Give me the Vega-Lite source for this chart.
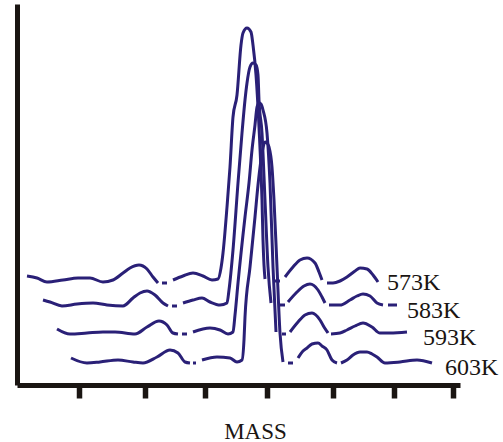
{
  "$schema": "https://vega.github.io/schema/vega-lite/v6.json",
  "autosize": {"type": "none"},
  "width": 443,
  "height": 381,
  "padding": {"left": 17, "top": 4, "right": 43, "bottom": 57},
  "background": "white",
  "config": {"view": {"stroke": null}},
  "datasets": {
    "curves": [
      {"s":"573K-1","m":10,"v":109},{"s":"573K-1","m":20,"v":107},{"s":"573K-1","m":30,"v":103},{"s":"573K-1","m":46,"v":105},{"s":"573K-1","m":61,"v":107},{"s":"573K-1","m":73,"v":107},{"s":"573K-1","m":86,"v":103},{"s":"573K-1","m":96,"v":105},{"s":"573K-1","m":106,"v":112},{"s":"573K-1","m":113,"v":117},{"s":"573K-1","m":122,"v":120},{"s":"573K-1","m":130,"v":116},{"s":"573K-1","m":136,"v":108},{"s":"573K-1","m":141,"v":102},
      {"s":"573K-2","m":145,"v":102},{"s":"573K-2","m":150,"v":102},
      {"s":"573K-3","m":156,"v":105},{"s":"573K-3","m":166,"v":109},{"s":"573K-3","m":176,"v":112},{"s":"573K-3","m":186,"v":109},{"s":"573K-3","m":195,"v":105},{"s":"573K-3","m":201,"v":106},{"s":"573K-3","m":204,"v":117},{"s":"573K-3","m":206,"v":132},{"s":"573K-3","m":210,"v":178},{"s":"573K-3","m":213,"v":218},{"s":"573K-3","m":216,"v":268},{"s":"573K-3","m":220,"v":290},{"s":"573K-3","m":224,"v":340},{"s":"573K-3","m":226,"v":352},{"s":"573K-3","m":230,"v":357},{"s":"573K-3","m":234,"v":353},{"s":"573K-3","m":236,"v":340},{"s":"573K-3","m":239,"v":310},{"s":"573K-3","m":242,"v":258},{"s":"573K-3","m":245,"v":185},{"s":"573K-3","m":246,"v":145},{"s":"573K-3","m":247,"v":120},{"s":"573K-3","m":248,"v":106},
      {"s":"573K-4","m":256,"v":104},{"s":"573K-4","m":263,"v":104},
      {"s":"573K-5","m":268,"v":108},{"s":"573K-5","m":276,"v":118},{"s":"573K-5","m":283,"v":125},{"s":"573K-5","m":290,"v":127},{"s":"573K-5","m":298,"v":122},{"s":"573K-5","m":302,"v":113},{"s":"573K-5","m":305,"v":105},
      {"s":"573K-6","m":310,"v":102},{"s":"573K-6","m":316,"v":102},{"s":"573K-6","m":323,"v":104},{"s":"573K-6","m":330,"v":108},{"s":"573K-6","m":338,"v":114},{"s":"573K-6","m":343,"v":117},{"s":"573K-6","m":350,"v":116},{"s":"573K-6","m":356,"v":110},{"s":"573K-6","m":361,"v":103},

      {"s":"583K-1","m":26,"v":85},{"s":"583K-1","m":33,"v":83},{"s":"583K-1","m":45,"v":79},{"s":"583K-1","m":60,"v":81},{"s":"583K-1","m":76,"v":82},{"s":"583K-1","m":90,"v":80},{"s":"583K-1","m":106,"v":79},{"s":"583K-1","m":116,"v":87},{"s":"583K-1","m":123,"v":92},{"s":"583K-1","m":130,"v":94},{"s":"583K-1","m":138,"v":90},{"s":"583K-1","m":146,"v":82},{"s":"583K-1","m":151,"v":79},
      {"s":"583K-2","m":155,"v":79},{"s":"583K-2","m":160,"v":79},
      {"s":"583K-3","m":166,"v":82},{"s":"583K-3","m":176,"v":85},{"s":"583K-3","m":185,"v":87},{"s":"583K-3","m":193,"v":83},{"s":"583K-3","m":203,"v":80},{"s":"583K-3","m":210,"v":82},{"s":"583K-3","m":212,"v":95},{"s":"583K-3","m":216,"v":135},{"s":"583K-3","m":221,"v":202},{"s":"583K-3","m":225,"v":252},{"s":"583K-3","m":228,"v":285},{"s":"583K-3","m":230,"v":302},{"s":"583K-3","m":233,"v":318},{"s":"583K-3","m":236,"v":322},{"s":"583K-3","m":239,"v":320},{"s":"583K-3","m":241,"v":310},{"s":"583K-3","m":242,"v":285},{"s":"583K-3","m":245,"v":252},{"s":"583K-3","m":248,"v":185},{"s":"583K-3","m":251,"v":118},{"s":"583K-3","m":254,"v":82},
      {"s":"583K-4","m":261,"v":80},{"s":"583K-4","m":268,"v":80},
      {"s":"583K-5","m":271,"v":83},{"s":"583K-5","m":280,"v":93},{"s":"583K-5","m":287,"v":99},{"s":"583K-5","m":293,"v":101},{"s":"583K-5","m":301,"v":95},{"s":"583K-5","m":305,"v":88},{"s":"583K-5","m":308,"v":82},
      {"s":"583K-6","m":312,"v":80},{"s":"583K-6","m":323,"v":80},{"s":"583K-6","m":333,"v":85},{"s":"583K-6","m":340,"v":89},{"s":"583K-6","m":346,"v":91},{"s":"583K-6","m":353,"v":89},{"s":"583K-6","m":360,"v":82},{"s":"583K-6","m":366,"v":80},
      {"s":"583K-7","m":371,"v":80},{"s":"583K-7","m":380,"v":80},

      {"s":"593K-1","m":40,"v":56},{"s":"593K-1","m":53,"v":51},{"s":"593K-1","m":70,"v":52},{"s":"593K-1","m":86,"v":53},{"s":"593K-1","m":98,"v":53},{"s":"593K-1","m":118,"v":51},{"s":"593K-1","m":130,"v":58},{"s":"593K-1","m":142,"v":64},{"s":"593K-1","m":150,"v":60},{"s":"593K-1","m":156,"v":52},{"s":"593K-1","m":161,"v":51},
      {"s":"593K-2","m":165,"v":51},{"s":"593K-2","m":170,"v":51},
      {"s":"593K-3","m":176,"v":53},{"s":"593K-3","m":193,"v":57},{"s":"593K-3","m":203,"v":55},{"s":"593K-3","m":211,"v":51},{"s":"593K-3","m":216,"v":53},{"s":"593K-3","m":218,"v":70},{"s":"593K-3","m":221,"v":102},{"s":"593K-3","m":228,"v":168},{"s":"593K-3","m":232,"v":202},{"s":"593K-3","m":235,"v":235},{"s":"593K-3","m":238,"v":260},{"s":"593K-3","m":240,"v":278},{"s":"593K-3","m":242,"v":282},{"s":"593K-3","m":244,"v":281},{"s":"593K-3","m":246,"v":275},{"s":"593K-3","m":250,"v":252},{"s":"593K-3","m":253,"v":202},{"s":"593K-3","m":256,"v":118},{"s":"593K-3","m":259,"v":53},
      {"s":"593K-4","m":265,"v":51},{"s":"593K-4","m":269,"v":51},
      {"s":"593K-5","m":273,"v":53},{"s":"593K-5","m":281,"v":63},{"s":"593K-5","m":288,"v":70},{"s":"593K-5","m":295,"v":72},{"s":"593K-5","m":303,"v":65},{"s":"593K-5","m":307,"v":58},{"s":"593K-5","m":311,"v":52},
      {"s":"593K-6","m":314,"v":51},{"s":"593K-6","m":323,"v":52},{"s":"593K-6","m":330,"v":55},{"s":"593K-6","m":338,"v":59},{"s":"593K-6","m":346,"v":62},{"s":"593K-6","m":355,"v":58},{"s":"593K-6","m":363,"v":52},{"s":"593K-6","m":373,"v":52},{"s":"593K-6","m":390,"v":53},

      {"s":"603K-1","m":54,"v":27},{"s":"603K-1","m":70,"v":22},{"s":"603K-1","m":83,"v":23},{"s":"603K-1","m":101,"v":25},{"s":"603K-1","m":116,"v":23},{"s":"603K-1","m":126,"v":22},{"s":"603K-1","m":140,"v":28},{"s":"603K-1","m":153,"v":35},{"s":"603K-1","m":161,"v":32},{"s":"603K-1","m":168,"v":23},{"s":"603K-1","m":173,"v":22},
      {"s":"603K-2","m":176,"v":22},{"s":"603K-2","m":179,"v":22},
      {"s":"603K-3","m":185,"v":25},{"s":"603K-3","m":200,"v":28},{"s":"603K-3","m":213,"v":27},{"s":"603K-3","m":220,"v":23},{"s":"603K-3","m":225,"v":25},{"s":"603K-3","m":227,"v":45},{"s":"603K-3","m":228,"v":68},{"s":"603K-3","m":233,"v":118},{"s":"603K-3","m":238,"v":168},{"s":"603K-3","m":241,"v":200},{"s":"603K-3","m":244,"v":225},{"s":"603K-3","m":246,"v":237},{"s":"603K-3","m":248,"v":243},{"s":"603K-3","m":250,"v":242},{"s":"603K-3","m":252,"v":238},{"s":"603K-3","m":255,"v":218},{"s":"603K-3","m":257,"v":185},{"s":"603K-3","m":260,"v":118},{"s":"603K-3","m":263,"v":52},{"s":"603K-3","m":266,"v":23},
      {"s":"603K-4","m":271,"v":22},{"s":"603K-4","m":276,"v":22},
      {"s":"603K-5","m":281,"v":27},{"s":"603K-5","m":286,"v":34},{"s":"603K-5","m":290,"v":37},{"s":"603K-5","m":295,"v":41},{"s":"603K-5","m":301,"v":42},{"s":"603K-5","m":305,"v":39},{"s":"603K-5","m":310,"v":35},{"s":"603K-5","m":315,"v":25},{"s":"603K-5","m":320,"v":22},
      {"s":"603K-6","m":324,"v":22},{"s":"603K-6","m":330,"v":25},{"s":"603K-6","m":336,"v":30},{"s":"603K-6","m":343,"v":33},{"s":"603K-6","m":350,"v":33},{"s":"603K-6","m":355,"v":31},{"s":"603K-6","m":360,"v":28},{"s":"603K-6","m":368,"v":22},{"s":"603K-6","m":383,"v":23},{"s":"603K-6","m":400,"v":25},{"s":"603K-6","m":415,"v":22}
    ],
    "labels": [
      {"label":"573K","m":370,"v":95},
      {"label":"583K","m":390,"v":67},
      {"label":"593K","m":406,"v":40},
      {"label":"603K","m":428,"v":10}
    ]
  },
  "layer": [
    {
      "data": {"name": "curves"},
      "mark": {"type": "line", "color": "#2a2077", "strokeWidth": 3, "interpolate": "monotone", "strokeCap": "butt"},
      "encoding": {
        "x": {"field": "m", "type": "quantitative",
              "scale": {"domain": [0, 443], "nice": false, "zero": false},
              "axis": {"orient": "bottom", "domain": true, "domainColor": "#1a1512", "domainWidth": 5,
                       "ticks": true, "tickColor": "#1a1512", "tickWidth": 5.5, "tickSize": 13,
                       "values": [62, 128, 188, 250, 316, 377, 436],
                       "labels": false, "grid": false,
                       "title": "MASS", "titleFont": "Liberation Serif", "titleFontSize": 23, "titleFontWeight": "normal",
                       "titleColor": "#1a1512", "titleX": 238, "titleY": 53, "titleAlign": "center", "titleBaseline": "alphabetic"}},
        "y": {"field": "v", "type": "quantitative",
              "scale": {"domain": [0, 381], "nice": false, "zero": false},
              "axis": {"orient": "left", "domain": true, "domainColor": "#1a1512", "domainWidth": 5,
                       "ticks": false, "labels": false, "grid": false, "title": null}},
        "detail": {"field": "s", "type": "nominal"}
      }
    },
    {
      "data": {"name": "labels"},
      "mark": {"type": "text", "font": "Liberation Serif", "fontSize": 24, "align": "left", "baseline": "alphabetic", "color": "#1a1512"},
      "encoding": {
        "x": {"field": "m", "type": "quantitative"},
        "y": {"field": "v", "type": "quantitative"},
        "text": {"field": "label"}
      }
    }
  ]
}
